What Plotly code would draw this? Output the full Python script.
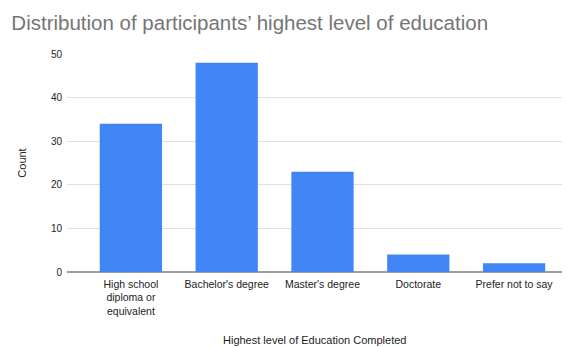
import plotly.graph_objects as go

categories = ["High school<br>diploma or<br>equivalent", "Bachelor's degree", "Master's degree", "Doctorate", "Prefer not to say"]
counts = [34, 48, 23, 4, 2]
y_ticks = [0, 10, 20, 30, 40, 50]

fig = go.Figure(go.Bar(x=list(range(len(categories))), y=counts, marker_color="#4285F4",
                       marker_line_width=0, width=0.65))

fig.update_layout(
    width=567, height=347,
    margin=dict(l=67, r=5, t=54, b=75),
    paper_bgcolor="white", plot_bgcolor="white",
    font=dict(family="Liberation Sans, Arial, sans-serif", color="#222222", size=11),
    title=dict(text="Distribution of participants’ highest level of education",
               font=dict(size=20.5, color="#757575"), x=0.02, xanchor="left", y=0.935, yanchor="middle"),
    showlegend=False,
    bargap=0.35,
    annotations=[dict(text="Highest level of Education Completed", xref="paper", yref="paper",
                      x=0.5, y=-0.312, xanchor="center", yanchor="middle", showarrow=False,
                      font=dict(size=11))],
)
fig.update_xaxes(range=[-0.667, 4.5], tickvals=list(range(len(categories))), ticktext=categories,
                 showgrid=False, zeroline=False, showline=False, ticks="", tickfont=dict(size=10.5),
                 ticklabelstandoff=4, automargin=False)
fig.update_yaxes(range=[0, 50], tickvals=y_ticks, showgrid=True, gridcolor="#e0e0e0", gridwidth=1,
                 zeroline=True, zerolinecolor="#9e9e9e", zerolinewidth=1.5, ticks="", tickfont=dict(size=10),
                 title=dict(text="Count", font=dict(size=11), standoff=22), ticklabelstandoff=4,
                 automargin=False)

fig.write_html("out.html", config={"displayModeBar": False},
               post_script="document.body.style.margin='0';")
